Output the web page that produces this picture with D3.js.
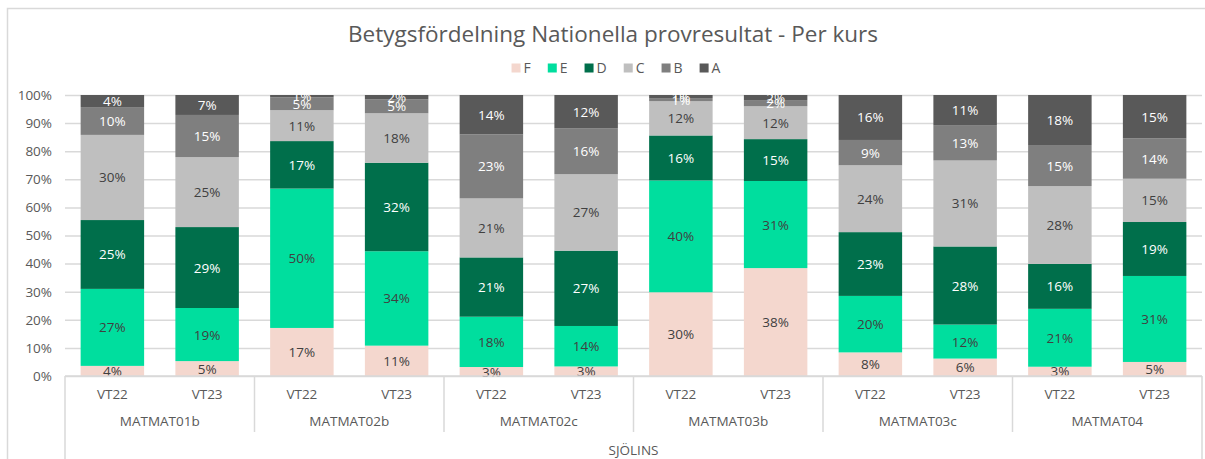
<!DOCTYPE html>
<html>
<head>
<meta charset="utf-8">
<script src="https://cdn.jsdelivr.net/npm/d3@7"></script>
<style>
  body { margin: 0; background: #fff; }
  text { font-family: "Century Gothic", "Open Sans", sans-serif; fill: #595959; }
</style>
</head>
<body>
<div id="chart"></div>
<script>
var width = 1205, height = 459;
var margin = {top: 95, left: 65, right: 3, bottom: 83};

var courses = ["MATMAT01b","MATMAT02b","MATMAT02c","MATMAT03b","MATMAT03c","MATMAT04"];
var terms = ["VT22","VT23"];
var school = "SJÖLINS";
var grades = ["F","E","D","C","B","A"];
var yTicks = [0,10,20,30,40,50,60,70,80,90,100];

// one value per bar: course x term, in order
var gradeF = [3.6, 5.3, 17.1, 10.8, 3.2, 3.4, 29.8, 38.4, 8.4, 6.2, 3.3, 5.0];
var gradeE = [27.4, 18.9, 49.6, 33.6, 17.9, 14.4, 39.8, 31.0, 20.1, 12.1, 20.6, 30.6];
var gradeD = [24.5, 28.8, 16.9, 31.5, 21.1, 26.8, 16.0, 14.9, 22.7, 27.8, 16.0, 19.2];
var gradeC = [30.3, 24.9, 11.0, 17.6, 21.0, 27.2, 12.2, 11.7, 23.8, 30.6, 27.7, 15.4];
var gradeB = [9.9, 15.0, 4.6, 4.9, 22.8, 16.4, 1.1, 2.2, 9.0, 12.6, 14.6, 14.4];
var gradeA = [4.3, 7.1, 0.8, 1.6, 14.0, 11.8, 1.1, 1.8, 16.0, 10.7, 17.8, 15.4];

var colors = {F:"#F4D7CE", E:"#00DE9E", D:"#006F4B", C:"#BFBFBF", B:"#7F7F7F", A:"#595959"};
var labelColors = {F:"#404040", E:"#404040", D:"#ffffff", C:"#404040", B:"#ffffff", A:"#ffffff"};

var series = {F: gradeF, E: gradeE, D: gradeD, C: gradeC, B: gradeB, A: gradeA};
var rows = [];
courses.forEach(function(c, ci) {
  terms.forEach(function(t, ti) {
    var i = ci * terms.length + ti;
    var r = {key: i, course: c, term: t};
    grades.forEach(function(g) { r[g] = series[g][i]; });
    rows.push(r);
  });
});

var svg = d3.select("#chart").append("svg")
  .attr("width", width)
  .attr("height", height);

// chart frame
svg.append("rect")
  .attr("x", 7.5).attr("y", 8.5)
  .attr("width", 1220).attr("height", 500)
  .attr("fill", "#fff")
  .attr("stroke", "#D9D9D9")
  .attr("stroke-width", 1.5);

var xScale = d3.scaleBand()
  .domain(rows.map(function(d) { return d.key; }))
  .range([margin.left, width - margin.right])
  .paddingInner(0.33)
  .paddingOuter(0.165);

var courseScale = d3.scaleBand()
  .domain(courses)
  .range([margin.left, width - margin.right]);

var yScale = d3.scaleLinear()
  .domain([0, 100])
  .range([height - margin.bottom, margin.top]);

// y axis with gridlines
var yAxis = svg.append("g")
  .attr("transform", `translate(${margin.left},0)`)
  .call(d3.axisLeft(yScale)
    .tickValues(yTicks)
    .tickSize(-(width - margin.left - margin.right))
    .tickPadding(13)
    .tickFormat(function(d) { return d + "%"; }));
yAxis.select(".domain").remove();
yAxis.selectAll(".tick line").attr("stroke", "#D9D9D9").attr("stroke-width", 1.5);
yAxis.selectAll(".tick text")
  .style("font-size", "13.5px")
  .attr("fill", "#595959");

// title
svg.append("text")
  .attr("x", 613)
  .attr("y", 42)
  .attr("text-anchor", "middle")
  .style("font-size", "22.5px")
  .text("Betygsfördelning Nationella provresultat - Per kurs");

// legend
var legend = svg.append("g");
var lx = 0;
grades.forEach(function(g) {
  var item = legend.append("g").attr("transform", `translate(${lx},0)`);
  item.append("rect")
    .attr("x", 0).attr("y", -4.5)
    .attr("width", 9).attr("height", 9)
    .attr("fill", colors[g]);
  var t = item.append("text")
    .attr("x", 12).attr("y", 5)
    .style("font-size", "14px")
    .text(g);
  lx += 12 + t.node().getComputedTextLength() + 17;
});
legend.attr("transform", `translate(${616 - (lx - 17) / 2},68)`);

// stacked bars
var stack = d3.stack().keys(grades)(rows);

var layers = svg.selectAll(".layer")
  .data(stack)
  .enter()
  .append("g")
    .attr("class", "layer")
    .attr("fill", function(d) { return colors[d.key]; });

layers.selectAll("rect")
  .data(function(d) { return d; })
  .enter()
  .append("rect")
    .attr("x", function(d) { return xScale(d.data.key); })
    .attr("y", function(d) { return yScale(d[1]); })
    .attr("width", xScale.bandwidth())
    .attr("height", function(d) { return yScale(d[0]) - yScale(d[1]); });

// data labels
stack.forEach(function(layer) {
  svg.append("g").selectAll("text")
    .data(layer)
    .enter()
    .append("text")
      .attr("x", function(d) { return xScale(d.data.key) + xScale.bandwidth() / 2; })
      .attr("y", function(d) { return (yScale(d[0]) + yScale(d[1])) / 2 + 5; })
      .attr("text-anchor", "middle")
      .style("font-size", "13.5px")
      .style("fill", labelColors[layer.key])
      .text(function(d) { return Math.round(d.data[layer.key]) + "%"; });
});

// multi-level category axis
var axisY = height - margin.bottom;
svg.append("line")
  .attr("x1", margin.left).attr("x2", width - margin.right)
  .attr("y1", axisY).attr("y2", axisY)
  .attr("stroke", "#D9D9D9").attr("stroke-width", 1.5);

var seps = courses.map(function(c) { return courseScale(c); }).concat([width - margin.right]);
svg.selectAll(".sep")
  .data(seps)
  .enter()
  .append("line")
    .attr("x1", function(d) { return d; })
    .attr("x2", function(d) { return d; })
    .attr("y1", axisY)
    .attr("y2", function(d, i) { return (i === 0 || i === seps.length - 1) ? height : 432; })
    .attr("stroke", "#D9D9D9")
    .attr("stroke-width", 1.5);

svg.selectAll(".term")
  .data(rows)
  .enter()
  .append("text")
    .attr("x", function(d) { return xScale(d.key) + xScale.bandwidth() / 2; })
    .attr("y", 399)
    .attr("text-anchor", "middle")
    .style("font-size", "13.5px")
    .text(function(d) { return d.term; });

svg.selectAll(".course")
  .data(courses)
  .enter()
  .append("text")
    .attr("x", function(d) { return courseScale(d) + courseScale.bandwidth() / 2; })
    .attr("y", 426)
    .attr("text-anchor", "middle")
    .style("font-size", "13.5px")
    .text(function(d) { return d; });

svg.append("text")
  .attr("x", (margin.left + width - margin.right) / 2)
  .attr("y", 455)
  .attr("text-anchor", "middle")
  .style("font-size", "13.5px")
  .text(school);
</script>
</body>
</html>
